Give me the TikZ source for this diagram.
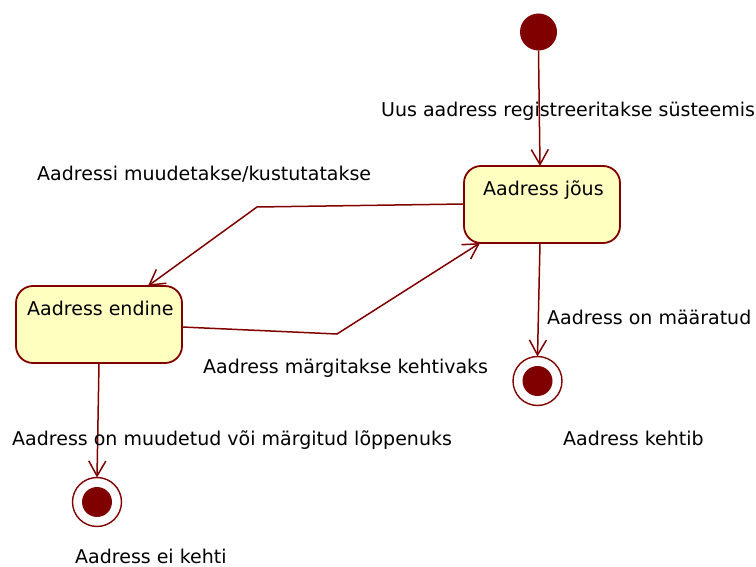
\documentclass[tikz,border=0pt]{standalone}
\usepackage{fontspec}
\setmainfont{DejaVu Sans}
\usetikzlibrary{arrows.meta}
\definecolor{umlred}{HTML}{800000}
\definecolor{umlfill}{HTML}{FFFFC0}
\begin{document}
\begin{tikzpicture}[x=1pt,y=-1pt,
  statebox/.style={draw=umlred,fill=umlfill,line width=1.8pt,rounded corners=17pt,
    inner sep=0pt,outer sep=0pt},
  startdot/.style={circle,fill=umlred,inner sep=0pt,minimum size=37pt,outer sep=0pt},
  enddot/.style={circle,draw=umlred,line width=1.4pt,fill=white,inner sep=0pt,
    minimum size=49pt,outer sep=0pt,
    path picture={\fill[umlred] (path picture bounding box.center) circle (15pt);}},
  lbl/.style={anchor=base west,inner sep=0pt,font=\fontsize{19}{22}\selectfont},
  trans/.style={draw=umlred,line width=1.5pt,
    -{Straight Barb[length=15pt,width=17pt,line width=1.5pt]}}
]
\useasboundingbox (0,0) rectangle (756,567);

% states
\node[statebox,minimum width=156pt,minimum height=77pt] (jous) at (542,204.5) {};
\node[statebox,minimum width=166pt,minimum height=77pt] (endine) at (99,324.5) {};
\node[lbl] (jouslbl) at (483,196) {Aadress jõus};
\node[lbl] (endinelbl) at (27,316) {Aadress endine};

% initial and final states
\node[startdot] (start) at (538.5,32) {};
\node[enddot] (endok) at (537.5,381) {};
\node[enddot] (endno) at (97,502) {};

% bend points
\coordinate (b1) at (257,207);
\coordinate (b2) at (337,334);

% transitions
\draw[trans] (start.south) -- (jous.north -| 540,0);
\draw[trans] (jous.west |- 0,204) -- (b1) -- (endine.north -| 148,0);
\draw[trans] (endine.east |- 0,327) -- (b2) -- (480,243);
\draw[trans] (jous.south -| 540,0) -- (endok.north);
\draw[trans] (endine.south -| 99,0) -- (endno.north);

% transition labels
\node[lbl] (l1) at (381,117) {Uus aadress registreeritakse süsteemis};
\node[lbl] (l2) at (37,181) {Aadressi muudetakse/kustutatakse};
\node[lbl] (l3) at (547,324) {Aadress on määratud};
\node[lbl] (l4) at (203,373) {Aadress märgitakse kehtivaks};
\node[lbl] (l5) at (12,445) {Aadress on muudetud või märgitud lõppenuks};
\node[lbl] (l6) at (563,445) {Aadress kehtib};
\node[lbl] (l7) at (75,563) {Aadress ei kehti};
\end{tikzpicture}
\end{document}
